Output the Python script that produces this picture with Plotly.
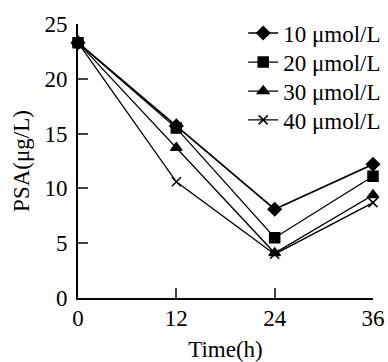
import plotly.graph_objects as go

time_h = [0, 12, 24, 36]
psa_10 = [23.3, 15.7, 8.1, 12.2]
psa_20 = [23.3, 15.5, 5.5, 11.1]
psa_30 = [23.3, 13.7, 4.1, 9.4]
psa_40 = [23.3, 10.6, 4.0, 8.7]
series_names = ["10 μmol/L", "20 μmol/L", "30 μmol/L", "40 μmol/L"]
x_ticks = [0, 12, 24, 36]
y_ticks = [0, 5, 10, 15, 20, 25]

FONT = "Liberation Serif"

fig = go.Figure()
styles = [
    dict(symbol="diamond", size=10, lw=1.6),
    dict(symbol="square", size=10, lw=1.3),
    dict(symbol="triangle-up", size=10, lw=1.3),
    dict(symbol="x-thin", size=9, lw=1.3),
]
legend_ids = ["legend", "legend2", "legend3", "legend4"]
legend_y = [0.967, 0.861, 0.755, 0.650]

for name, vals, st, lid in zip(series_names, [psa_10, psa_20, psa_30, psa_40], styles, legend_ids):
    fig.add_trace(go.Scatter(
        x=time_h, y=vals, name=name, mode="lines+markers",
        line=dict(color="black", width=st["lw"]),
        marker=dict(symbol=st["symbol"], size=st["size"], color="black",
                    line=dict(color="black", width=1.5)),
        cliponaxis=False, legend=lid,
    ))

legend_layout = {}
for lid, ly in zip(legend_ids, legend_y):
    legend_layout[lid] = dict(x=0.56, y=ly, xanchor="left", yanchor="middle",
                              bgcolor="rgba(0,0,0,0)", font=dict(size=23, family=FONT),
                              itemwidth=30)

fig.update_layout(
    width=388, height=362,
    margin=dict(l=78, r=15, t=24, b=64, autoexpand=False),
    paper_bgcolor="white", plot_bgcolor="white",
    font=dict(family=FONT, size=23, color="black"),
    showlegend=True,
    **legend_layout,
)
fig.update_xaxes(
    range=[0, 36], tickvals=x_ticks, ticks="inside", ticklen=10, tickwidth=2,
    showline=True, linecolor="black", linewidth=2, showgrid=False, zeroline=False,
    title=dict(text="Time(h)", standoff=15, font=dict(size=23, family=FONT)),
    tickfont=dict(size=23, family=FONT), ticklabelstandoff=-2, automargin=False,
)
fig.update_yaxes(
    range=[0, 25], tickvals=y_ticks, ticks="inside", ticklen=10, tickwidth=2,
    showline=True, linecolor="black", linewidth=2, showgrid=False, zeroline=False,
    title=dict(text="PSA(μg/L)", standoff=8, font=dict(size=23, family=FONT)),
    tickfont=dict(size=23, family=FONT), ticklabelstandoff=4, automargin=False,
)

fig.write_html("out.html", post_script="document.body.style.margin='0';",
               config={"displayModeBar": False})
